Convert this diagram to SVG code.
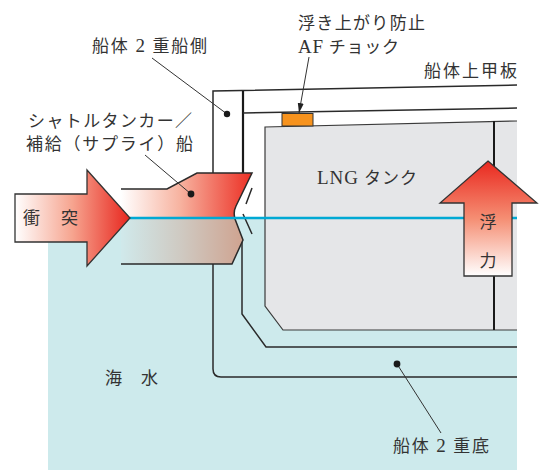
<svg xmlns="http://www.w3.org/2000/svg" width="539" height="470" viewBox="0 0 539 470">
  <style>
    .lbl { font-family: "Liberation Serif", "Noto Sans CJK JP", serif; font-size: 17px; fill: #333; }
    .lat { font-size: 19px; }
    .hull { fill: none; stroke: #2a2a2a; stroke-width: 1.5; stroke-linejoin: miter; }
    .thin { fill: none; stroke: #333; stroke-width: 1; }
    .dot { fill: #1a1a1a; }
  </style>
  <defs>
    <linearGradient id="gHit" x1="15" y1="0" x2="130" y2="0" gradientUnits="userSpaceOnUse">
      <stop offset="0" stop-color="#ffffff"/>
      <stop offset="0.5" stop-color="#f6a48f"/>
      <stop offset="1" stop-color="#e8261e"/>
    </linearGradient>
    <linearGradient id="gShipUp" x1="121" y1="0" x2="252" y2="0" gradientUnits="userSpaceOnUse">
      <stop offset="0" stop-color="#ffffff"/>
      <stop offset="0.45" stop-color="#f7b3a0"/>
      <stop offset="1" stop-color="#ec2f24"/>
    </linearGradient>
    <linearGradient id="gShipDn" x1="121" y1="0" x2="243" y2="0" gradientUnits="userSpaceOnUse">
      <stop offset="0" stop-color="#d0e9eb"/>
      <stop offset="0.5" stop-color="#cfc9c1"/>
      <stop offset="1" stop-color="#cfa390"/>
    </linearGradient>
    <linearGradient id="gLift" x1="0" y1="161" x2="0" y2="276" gradientUnits="userSpaceOnUse">
      <stop offset="0" stop-color="#e9281f"/>
      <stop offset="0.5" stop-color="#f58e73"/>
      <stop offset="1" stop-color="#ffffff"/>
    </linearGradient>
    <marker id="ah" viewBox="0 0 10 10" refX="10" refY="5" markerWidth="10" markerHeight="10" markerUnits="userSpaceOnUse" orient="auto">
      <path d="M0,2 L10,5 L0,8 Z" fill="#222"/>
    </marker>
  </defs>

  <rect width="539" height="470" fill="#ffffff"/>

  <!-- sea water -->
  <g id="sea">
    <rect x="48" y="218" width="469" height="252" fill="#cdeaec"/>
    <text class="lbl" x="105" y="384" textLength="53" lengthAdjust="spacing">海　水</text>
  </g>

  <!-- LNG cargo tank -->
  <g id="tank">
    <path d="M517,121 L265,127 L265,306 L283,330 L517,330" fill="#e5e6e8" stroke="#3a3a3a" stroke-width="1.2"/>
    <line x1="494" y1="121" x2="494" y2="330" stroke="#1a1a1a" stroke-width="2"/>
    <text class="lbl" x="317" y="184" textLength="100" lengthAdjust="spacing"><tspan class="lat">LNG</tspan> タンク</text>
  </g>

  <!-- hull structure -->
  <g id="hull">
    <!-- upper deck and outer side shell -->
    <path class="hull" d="M517,85 L213,91 L213,174"/>
    <path class="hull" d="M213,262 L213,369 Q213,377 221,377 L517,377"/>
    <!-- inner side shell and inner deck -->
    <line x1="243" y1="91" x2="243" y2="174" stroke="#1a1a1a" stroke-width="2.2"/>
    <path class="hull" d="M243,113 L517,108"/>
    <!-- inner hull below the waterline, double bottom -->
    <path class="hull" d="M242,238 L242,314 L266,347 L517,347"/>
    <!-- torn shell plating -->
    <path class="hull" d="M252,188 L246,204 M243,214 L252,234" stroke-width="1.3"/>
  </g>

  <!-- anti-flotation chock -->
  <g id="chock">
    <rect x="282" y="113.5" width="31" height="12.5" fill="#f7931e" stroke="#333" stroke-width="1"/>
  </g>

  <!-- shuttle tanker / supply vessel -->
  <g id="ship">
    <path d="M121,189 L167,189 L197,173 L252,173 L236,206 Q233,212 235,218 L121,218 Z" fill="url(#gShipUp)"/>
    <path d="M121,218 L235,218 L243,240 L232,264 L121,264 Z" fill="url(#gShipDn)"/>
    <path class="hull" d="M121,189 L167,189 L197,173 L252,173 L236,206 Q233,212 235,219 L243,240 L232,264 L121,264"/>
  </g>

  <!-- waterline -->
  <line id="waterline" x1="130" y1="218" x2="517" y2="218" stroke="#00a9d4" stroke-width="2.6"/>

  <!-- collision arrow -->
  <g id="collision">
    <path d="M15,194 L87,194 L87,170 L130,218 L87,266 L87,242 L15,242 Z" fill="url(#gHit)" stroke="#333" stroke-width="1.3" stroke-linejoin="miter"/>
    <text class="lbl" x="23" y="224" textLength="55" lengthAdjust="spacing">衝　突</text>
  </g>

  <!-- buoyancy arrow -->
  <g id="buoyancy">
    <path d="M488,161 L537,203 L512,203 L512,276 L464,276 L464,203 L440,203 Z" fill="url(#gLift)" stroke="#333" stroke-width="1.3" stroke-linejoin="miter"/>
    <text class="lbl" x="488" y="228" text-anchor="middle">浮</text>
    <text class="lbl" x="488" y="267" text-anchor="middle">力</text>
  </g>

  <!-- labels with leaders -->
  <g id="connectors">
    <line class="thin" x1="152" y1="58" x2="227" y2="114"/>
    <circle class="dot" cx="227" cy="114" r="3.2"/>
    <line class="thin" x1="145" y1="155" x2="191" y2="194"/>
    <circle class="dot" cx="191" cy="194" r="3.4"/>
    <line class="thin" x1="441" y1="433" x2="397" y2="364"/>
    <circle class="dot" cx="397" cy="364" r="3.4"/>
    <line class="thin" x1="309" y1="57" x2="299" y2="113" marker-end="url(#ah)"/>
  </g>

  <g id="label-side">
    <text class="lbl" x="92" y="52" textLength="115" lengthAdjust="spacing">船体 <tspan class="lat">2</tspan> 重船側</text>
  </g>
  <g id="label-ship">
    <text class="lbl" x="28" y="127" textLength="164" lengthAdjust="spacing">シャトルタンカー／</text>
    <text class="lbl" x="26" y="150" textLength="167" lengthAdjust="spacing">補給（サプライ）船</text>
  </g>
  <g id="label-chock">
    <text class="lbl" x="298" y="29" textLength="127" lengthAdjust="spacing">浮き上がり防止</text>
    <text class="lbl" x="298" y="53" textLength="101" lengthAdjust="spacing"><tspan class="lat">AF</tspan> チョック</text>
  </g>
  <g id="label-deck">
    <text class="lbl" x="424" y="77" textLength="93" lengthAdjust="spacing">船体上甲板</text>
  </g>
  <g id="label-bottom">
    <text class="lbl" x="393" y="452" textLength="96" lengthAdjust="spacing">船体 <tspan class="lat">2</tspan> 重底</text>
  </g>
</svg>
